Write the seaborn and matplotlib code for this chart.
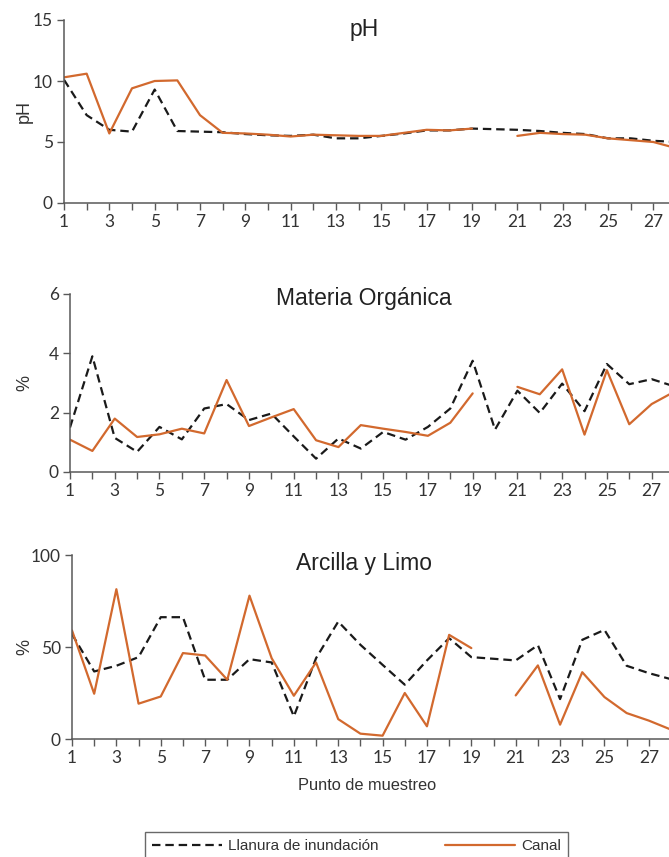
import numpy as np
import pandas as pd
import matplotlib
matplotlib.use("Agg")
import matplotlib.pyplot as plt
from matplotlib.lines import Line2D
import seaborn as sns

sns.set_theme(style="ticks")
plt.rcParams["font.family"] = ["Liberation Sans", "DejaVu Sans"]

puntos = list(range(1, 29))
nan = np.nan

ph_llanura = [10.1, 7.2, 6.0, 5.85, 9.3, 5.9, 5.85, 5.8, 5.65, 5.55, 5.5, 5.6, 5.3, 5.3,
              5.5, 5.7, 5.95, 5.95, 6.1, 6.05, 6.0, 5.9, 5.75, 5.65, 5.3, 5.3, 5.1, 5.0]
ph_canal = [10.3, 10.6, 5.7, 9.4, 10.0, 10.05, 7.2, 5.75, 5.7, 5.6, 5.45, 5.6, 5.55, 5.5,
            5.5, 5.75, 6.0, 5.95, 6.1, nan, 5.5, 5.75, 5.65, 5.6, 5.3, 5.15, 5.0, 4.5]

mo_llanura = [1.5, 3.9, 1.15, 0.68, 1.52, 1.1, 2.14, 2.29, 1.75, 1.97, 1.2, 0.45, 1.13, 0.79,
              1.35, 1.09, 1.52, 2.14, 3.75, 1.43, 2.74, 1.99, 2.98, 2.05, 3.64, 2.96, 3.13, 2.89]
mo_canal = [1.09, 0.71, 1.8, 1.18, 1.27, 1.46, 1.3, 3.1, 1.55, 1.84, 2.12, 1.07, 0.84, 1.58,
            1.46, 1.35, 1.22, 1.66, 2.65, nan, 2.87, 2.62, 3.46, 1.26, 3.43, 1.61, 2.29, 2.7]

al_llanura = [57, 36.7, 39.8, 44.5, 66.2, 66.2, 32.2, 32.2, 43.4, 41.6, 12.3, 43.9, 63.8, 51.2,
              40.3, 29.5, 42.7, 54.8, 44.5, 43.6, 42.7, 51.0, 21.7, 53.9, 59.3, 39.8, 35.8, 32.5]
al_canal = [59.0, 24.6, 81.4, 19.2, 23.1, 46.7, 45.4, 32.2, 77.9, 43.9, 23.5, 41.6, 10.8, 2.9,
            1.8, 25.0, 6.9, 56.6, 49.4, nan, 23.7, 40.0, 7.8, 36.3, 22.8, 14.1, 10.0, 5.1]

sitios = ["Llanura de inundación", "Canal"]
colores = {"Llanura de inundación": "#1a1a1a", "Canal": "#D2692E"}
trazos = {"Llanura de inundación": (3.8, 2.2), "Canal": ""}

paneles = [
    ("pH", "pH", ph_llanura, ph_canal, (0, 15), [0, 5, 10, 15]),
    ("Materia Orgánica", "%", mo_llanura, mo_canal, (0, 6), [0, 2, 4, 6]),
    ("Arcilla y Limo", "%", al_llanura, al_canal, (0, 100), [0, 50, 100]),
]


def tabla_larga(llanura, canal):
    filas = []
    for sitio, valores in zip(sitios, [llanura, canal]):
        tramo = 0
        for p, v in zip(puntos, valores):
            if np.isnan(v):
                tramo += 1
                continue
            filas.append({"punto": p, "valor": v, "sitio": sitio, "tramo": tramo})
    return pd.DataFrame(filas)


W, H = 669, 857
fig = plt.figure(figsize=(W / 100, H / 100), dpi=100)

# axes boxes in pixels: left, top, right, bottom
cajas = [(64, 20, 676, 203), (70, 294, 674, 472), (72, 555, 671, 739)]
titulo_top = [18, 287, 552]
ylabel_x = 33

gris = "#595959"
for (titulo, ylab, ll, ca, ylim, yticks), (l, t, r, b), tt in zip(paneles, cajas, titulo_top):
    ax = fig.add_axes([l / W, 1 - b / H, (r - l) / W, (b - t) / H])
    df = tabla_larga(ll, ca)
    sns.lineplot(data=df, x="punto", y="valor", hue="sitio", style="sitio",
                 units="tramo", estimator=None, hue_order=sitios, style_order=sitios,
                 palette=colores, dashes=trazos, linewidth=1.6, legend=False, ax=ax)
    ax.set_xlim(1, 28)
    ax.set_ylim(*ylim)
    ax.set_xticks(puntos)
    ax.set_xticklabels([str(p) if p % 2 == 1 else "" for p in puntos])
    ax.set_yticks(yticks)
    ax.tick_params(axis="both", direction="out", length=5, width=1, color=gris,
                   labelsize=12.5, labelcolor="#333333", pad=3)
    for lab in ax.get_xticklabels() + ax.get_yticklabels():
        lab.set_family(["Lato", "DejaVu Sans"])
    for s in ["top", "right"]:
        ax.spines[s].set_visible(False)
    for s in ["left", "bottom"]:
        ax.spines[s].set_color(gris)
        ax.spines[s].set_linewidth(1.1)
    ax.set_xlabel("")
    ax.set_ylabel(ylab, fontsize=13, color="#333333")
    ax.yaxis.set_label_coords((ylabel_x - l) / (r - l), 0.5)
    fig.text(364 / W, 1 - tt / H, titulo, ha="center", va="top",
             fontsize=16.5, color="#222222")

fig.text(367 / W, 1 - 785 / H, "Punto de muestreo", ha="center", va="center",
         fontsize=11.8, color="#333333")

manejadores = [
    Line2D([], [], color=colores["Llanura de inundación"], linewidth=1.6,
           dashes=trazos["Llanura de inundación"]),
    Line2D([], [], color=colores["Canal"], linewidth=1.6),
]
leg = fig.legend(manejadores, sitios, loc="upper left",
                 bbox_to_anchor=(145 / W, 1 - 832 / H - 0.05, 423 / W, 0.05),
                 mode="expand", ncol=2, frameon=True, fancybox=False,
                 handlelength=4.6, handletextpad=0.4, borderpad=0.45,
                 fontsize=11, borderaxespad=0)
leg.get_frame().set_edgecolor("#444444")
leg.get_frame().set_linewidth(1.0)
for tx in leg.get_texts():
    tx.set_color("#333333")

fig.savefig("out.png", dpi=100)
